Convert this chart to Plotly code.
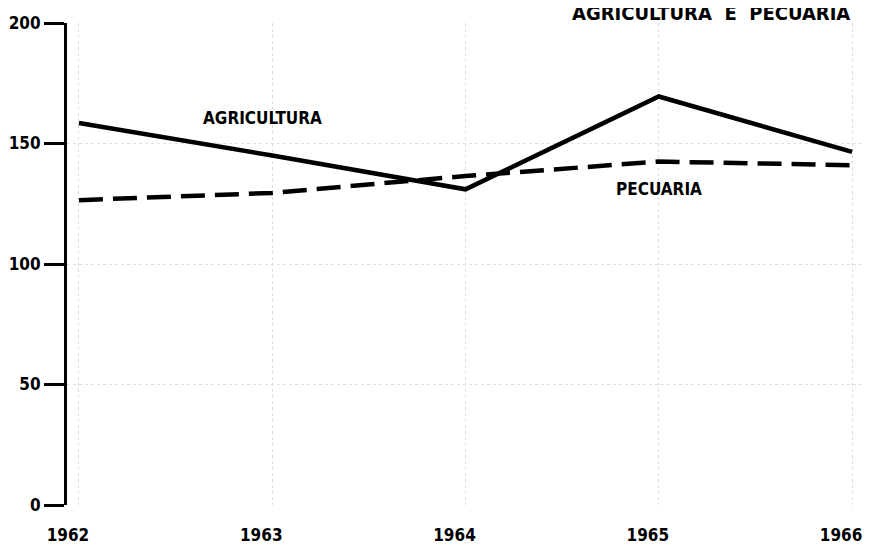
import plotly.graph_objects as go

anos = [1962, 1963, 1964, 1965, 1966]
agricultura = [158.5, 145, 131, 169.5, 146.5]
pecuaria = [126.5, 129.5, 136.5, 142.5, 141]
y_ticks = [0, 50, 100, 150, 200]

fonte = "Liberation Sans Narrow, DejaVu Sans Condensed, Arial Narrow, sans-serif"

fig = go.Figure()

fig.add_trace(go.Scatter(x=anos, y=agricultura, mode="lines", name="AGRICULTURA",
                         line=dict(color="black", width=4.5)))
fig.add_trace(go.Scatter(x=anos, y=pecuaria, mode="lines", name="PECUARIA",
                         line=dict(color="black", width=4.5, dash="24px,10px")))

# rotulos das linhas
fig.add_annotation(x=1962.95, y=160.5, text="AGRICULTURA", showarrow=False,
                   font=dict(family=fonte, size=17, color="black", weight="bold"))
fig.add_annotation(x=1965.0, y=131, text="PECUARIA", showarrow=False,
                   font=dict(family=fonte, size=17, color="black", weight="bold"))

# titulo cortado no topo (como no original)
fig.add_annotation(xref="paper", yref="paper", x=0.978, y=1.0, xanchor="right", yanchor="bottom",
                   yshift=-4, text="AGRICULTURA  E  PECUARIA", showarrow=False,
                   font=dict(family=fonte, size=20, color="black", weight="bold"))

fig.update_xaxes(range=[1961.938, 1966.093], tickvals=anos, ticktext=[str(a) for a in anos],
                 showline=False, zeroline=False, ticks="", automargin=False,
                 showgrid=True, gridcolor="#dcdcdc", griddash="dot", gridwidth=1,
                 ticklabelstandoff=18, ticklabelshift=-11, ticklabeloverflow="allow",
                 tickfont=dict(family=fonte, size=17, color="black", weight="bold"))
fig.update_yaxes(range=[0, 200], tickvals=y_ticks, showline=True, linecolor="black", linewidth=3,
                 ticks="outside", ticklen=20, tickwidth=2.5, tickcolor="black", automargin=False,
                 zeroline=False, showgrid=True, gridcolor="#e0e0e0", griddash="dot", gridwidth=1,
                 ticklabelstandoff=0,
                 tickfont=dict(family=fonte, size=17, color="black", weight="bold"))

# a pagina tem margem de 8px, por isso a figura e um pouco menor
fig.update_layout(width=862, height=542, margin=dict(l=59, r=0, t=15, b=45, autoexpand=False),
                  paper_bgcolor="white", plot_bgcolor="white", showlegend=False)

fig.write_html("out.html")
